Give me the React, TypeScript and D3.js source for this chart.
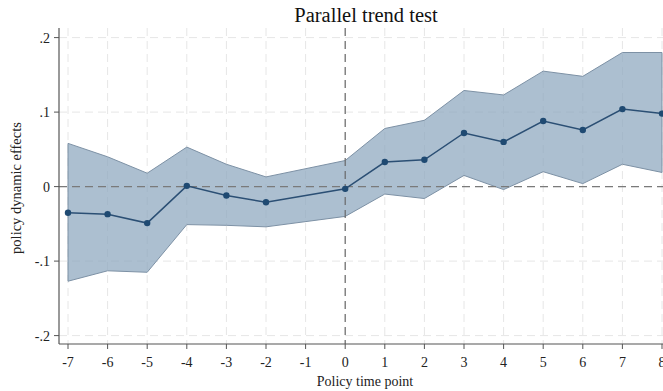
import React from "react";
import * as d3 from "d3";

const periods = [-7, -6, -5, -4, -3, -2, 0, 1, 2, 3, 4, 5, 6, 7, 8];
const estimates = [-0.035, -0.037, -0.049, 0.001, -0.012, -0.021, -0.003, 0.033, 0.036, 0.072, 0.06, 0.088, 0.076, 0.104, 0.098];
const upperCI = [0.058, 0.04, 0.018, 0.053, 0.03, 0.013, 0.035, 0.078, 0.089, 0.129, 0.123, 0.155, 0.148, 0.18, 0.18];
const lowerCI = [-0.127, -0.113, -0.115, -0.051, -0.052, -0.054, -0.04, -0.01, -0.016, 0.015, -0.004, 0.02, 0.004, 0.03, 0.019];
const xTicks = [-7, -6, -5, -4, -3, -2, -1, 0, 1, 2, 3, 4, 5, 6, 7, 8];
const yTicks = [-0.2, -0.1, 0, 0.1, 0.2];
const yTickLabels = ["-.2", "-.1", "0", ".1", ".2"];

const W = 663;
const H = 391;
const left = 59;
const top = 28;
const bottom = 344;

export default function App() {
  const x = d3.scaleLinear().domain([-7, 8]).range([68, 662]);
  const y = d3.scaleLinear().domain([-0.2, 0.2]).range([335.6, 37.6]);
  const rows = periods.map((p, i) => ({ p, e: estimates[i], u: upperCI[i], l: lowerCI[i] }));
  const area = d3
    .area<any>()
    .x((d) => x(d.p))
    .y0((d) => y(d.l))
    .y1((d) => y(d.u));
  const line = d3
    .line<any>()
    .x((d) => x(d.p))
    .y((d) => y(d.e));
  const font = "'Liberation Serif', 'Times New Roman', serif";
  return (
    <div style={{ position: "absolute", left: 0, top: 0 }}>
      <svg width={W} height={H} style={{ display: "block", background: "#fff" }}>
        {/* grid */}
        {xTicks.map((t) => (
          <line key={"gx" + t} x1={x(t)} x2={x(t)} y1={top} y2={bottom} stroke="#e6e6e6" strokeWidth={1} strokeDasharray="8,5" />
        ))}
        {yTicks.map((t) => (
          <line key={"gy" + t} x1={left} x2={W} y1={y(t)} y2={y(t)} stroke="#e6e6e6" strokeWidth={1} strokeDasharray="8,5" />
        ))}
        {/* CI area */}
        <path d={area(rows) || ""} fill="#8ca6be" fillOpacity={0.72} stroke="#7d91a5" strokeWidth={1} />
        {/* reference lines */}
        <line x1={left} x2={W} y1={y(0)} y2={y(0)} stroke="#7a7a7a" strokeWidth={1.2} strokeDasharray="8,5" />
        <line x1={x(0)} x2={x(0)} y1={top} y2={bottom} stroke="#6a6a6a" strokeWidth={1.2} strokeDasharray="8,5" />
        {/* estimate line */}
        <path d={line(rows) || ""} fill="none" stroke="#2b4f74" strokeWidth={1.5} />
        {rows.map((d) => (
          <circle key={"pt" + d.p} cx={x(d.p)} cy={y(d.e)} r={3.2} fill="#1f4a72" />
        ))}
        {/* axes */}
        <line x1={left} x2={left} y1={top} y2={bottom} stroke="#555" strokeWidth={1.2} />
        <line x1={left} x2={W} y1={bottom} y2={bottom} stroke="#555" strokeWidth={1.2} />
        {yTicks.map((t, i) => (
          <g key={"yt" + t}>
            <line x1={left - 5} x2={left} y1={y(t)} y2={y(t)} stroke="#555" strokeWidth={1} />
            <text x={50} y={y(t)} dy="0.35em" textAnchor="end" fontFamily={font} fontSize={14} fill="#222">
              {yTickLabels[i]}
            </text>
          </g>
        ))}
        {xTicks.map((t) => (
          <g key={"xt" + t}>
            <line x1={x(t)} x2={x(t)} y1={bottom} y2={bottom + 5} stroke="#555" strokeWidth={1} />
            <text x={x(t)} y={367} textAnchor="middle" fontFamily={font} fontSize={14} fill="#222">
              {String(t)}
            </text>
          </g>
        ))}
        {/* labels */}
        <text x={366} y={22} textAnchor="middle" fontFamily={font} fontSize={20.5} fill="#111">
          Parallel trend test
        </text>
        <text x={365} y={386} textAnchor="middle" fontFamily={font} fontSize={14} fill="#222">
          Policy time point
        </text>
        <text transform={`translate(21,${188}) rotate(-90)`} textAnchor="middle" fontFamily={font} fontSize={14.5} fill="#222">
          policy dynamic effects
        </text>
      </svg>
    </div>
  );
}
